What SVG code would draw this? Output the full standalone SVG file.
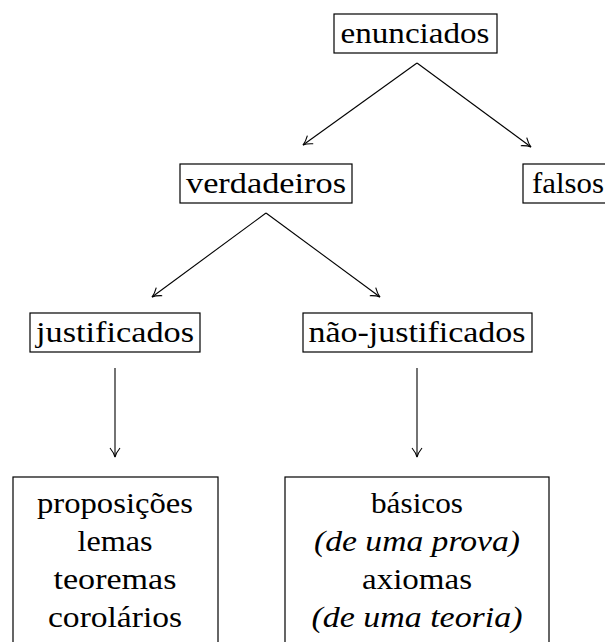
<svg xmlns="http://www.w3.org/2000/svg" width="605" height="642" viewBox="0 0 605 642">
<style>
.box{fill:#fff;stroke:#000;stroke-width:1.2}
.t{font-family:"Times New Roman","Liberation Serif","Noto Serif","DejaVu Serif",Times,serif;font-size:30px;fill:#000;text-anchor:middle}
.i{font-style:italic}
.c{fill:none;stroke:#000;stroke-width:1.1}
</style>
<defs>
<marker id="arr" viewBox="-10 -6 12 12" markerWidth="12" markerHeight="12" refX="0" refY="0" orient="auto" markerUnits="userSpaceOnUse">
<path d="M-9,-5 Q-4,-1 0,0 Q-4,1 -9,5" fill="none" stroke="#000" stroke-width="1.1"/>
</marker>
</defs>
<g id="connectors">
<line class="c" x1="417" y1="63" x2="303" y2="145" marker-end="url(#arr)"/>
<line class="c" x1="417" y1="63" x2="531" y2="147" marker-end="url(#arr)"/>
<line class="c" x1="266" y1="213" x2="152" y2="297" marker-end="url(#arr)"/>
<line class="c" x1="266" y1="213" x2="380" y2="297" marker-end="url(#arr)"/>
<line class="c" x1="115" y1="368" x2="115" y2="457" marker-end="url(#arr)"/>
<line class="c" x1="417" y1="368" x2="417" y2="457" marker-end="url(#arr)"/>
</g>
<g id="enunciados">
<rect class="box" x="334" y="14" width="163" height="39"/>
<text class="t" x="415" y="43" textLength="149" lengthAdjust="spacingAndGlyphs">enunciados</text>
</g>
<g id="verdadeiros">
<rect class="box" x="180" y="164" width="172" height="39"/>
<text class="t" x="266" y="193" textLength="160" lengthAdjust="spacingAndGlyphs">verdadeiros</text>
</g>
<g id="falsos">
<rect class="box" x="523" y="164" width="90" height="39"/>
<text class="t" x="568" y="193" textLength="72" lengthAdjust="spacingAndGlyphs">falsos</text>
</g>
<g id="justificados">
<rect class="box" x="30" y="313" width="170" height="39"/>
<text class="t" x="115" y="342" textLength="158" lengthAdjust="spacingAndGlyphs">justificados</text>
</g>
<g id="nao-justificados">
<rect class="box" x="303" y="313" width="229" height="39"/>
<text class="t" x="417" y="342" textLength="217" lengthAdjust="spacingAndGlyphs">não-justificados</text>
</g>
<g id="proposicoes">
<rect class="box" x="13" y="477" width="205" height="180"/>
<text class="t" x="115" y="513" textLength="156" lengthAdjust="spacingAndGlyphs">proposições</text>
<text class="t" x="115" y="551" textLength="75" lengthAdjust="spacingAndGlyphs">lemas</text>
<text class="t" x="115" y="589" textLength="123" lengthAdjust="spacingAndGlyphs">teoremas</text>
<text class="t" x="115" y="627" textLength="134" lengthAdjust="spacingAndGlyphs">corolários</text>
</g>
<g id="basicos">
<rect class="box" x="285" y="477" width="264" height="180"/>
<text class="t" x="417" y="513" textLength="92" lengthAdjust="spacingAndGlyphs">básicos</text>
<text class="t i" x="417" y="551" textLength="206" lengthAdjust="spacingAndGlyphs">(de uma prova)</text>
<text class="t" x="417" y="589" textLength="110" lengthAdjust="spacingAndGlyphs">axiomas</text>
<text class="t i" x="417" y="627" textLength="211" lengthAdjust="spacingAndGlyphs">(de uma teoria)</text>
</g>
</svg>
